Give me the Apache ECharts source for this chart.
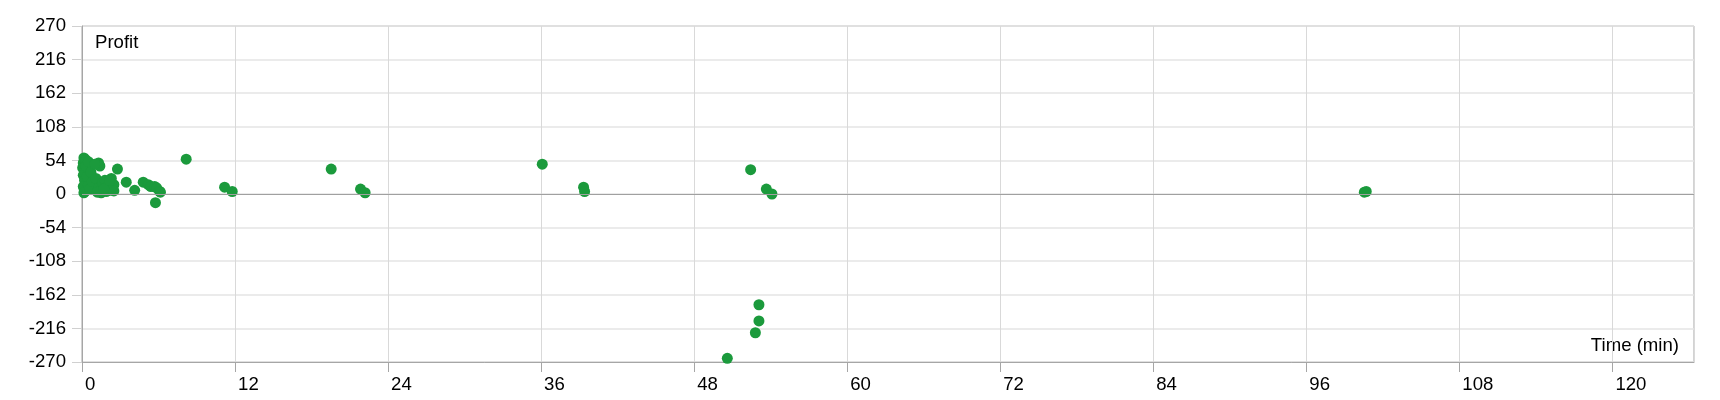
<!DOCTYPE html>
<html>
<head>
<meta charset="utf-8">
<script src="https://cdn.jsdelivr.net/npm/echarts@6/dist/echarts.min.js"></script>
<style>html,body{margin:0;padding:0;background:#fff}#c{width:1720px;height:400px}</style>
</head>
<body>
<div id="c"></div>
<script>
// Time (min) and profit of each trade
var timeMin = [
  0.15, 0.1, 0.3, 0.05, 0.2, 0.1, 0.3, 0.5, 0.2, 0.1, 0.3, 0.15, 0.5, 0.4, 0.6, 0.7, 0.8,
  1.3, 1.4, 1.0,
  1.1, 1.3, 1.5, 1.6, 1.8, 2.0, 2.2, 2.3, 1.9, 2.5, 2.5, 1.2, 1.7, 2.16,
  2.78, 3.47, 4.13, 4.8, 5.2, 5.4, 5.7, 5.85, 6.1, 6.15, 5.76,
  8.17, 11.18, 11.78, 19.54, 21.84, 22.2, 36.09, 39.33, 39.41,
  52.43, 53.66, 54.1, 53.08, 53.08, 52.8, 50.6, 100.55, 100.7
];
var profit = [
  58, 50, 55, 42, 38, 30, 45, 52, 22, 12, 5, 2, 15, 28, 8, 35, 20,
  50, 45, 48,
  25, 10, 2, 18, 22, 12, 6, 25, 4, 15, 5, 3, 8, 22,
  40, 19, 6, 19, 15, 12, 12, 10, 4, 3, -14,
  56, 11, 4, 40, 8, 2, 48, 11, 4,
  39, 8, 0, -178, -204, -223, -264, 3, 4
];
var yTicks = [-270, -216, -162, -108, -54, 0, 54, 108, 162, 216, 270];
var xTicks = [0, 12, 24, 36, 48, 60, 72, 84, 96, 108, 120];

var points = timeMin.map(function (t, i) { return [t, profit[i]]; });
var FONT = 'Liberation Sans';
var FS = 18.6;
var chart = echarts.init(document.getElementById('c'), null, {renderer: 'canvas'});
chart.setOption({
  animation: false,
  backgroundColor: '#fff',
  textStyle: {fontFamily: FONT},
  grid: {left: 82, right: 26, top: 26, bottom: 38, show: true, borderColor: '#a6a6a6', borderWidth: 1, containLabel: false},
  xAxis: {
    type: 'value', min: xTicks[0], max: 126.4, interval: 12,
    axisLine: {show: true, onZero: false, lineStyle: {color: '#a6a6a6'}},
    axisTick: {show: true, length: 10, lineStyle: {color: '#a6a6a6'}},
    splitLine: {show: true, lineStyle: {color: '#d9d9d9', width: 1}},
    axisLabel: {color: '#000', fontSize: FS, fontFamily: FONT, align: 'left', margin: 13, padding: [0, 0, 0, 3], showMaxLabel: false,
      formatter: function (v) { return xTicks.indexOf(v) >= 0 ? String(v) : ''; }}
  },
  yAxis: {
    type: 'value', min: yTicks[0], max: yTicks[yTicks.length - 1], interval: 54,
    axisLine: {show: true, onZero: false, lineStyle: {color: '#a6a6a6'}},
    axisTick: {show: true, length: 10, lineStyle: {color: '#d0d0d0'}},
    splitLine: {show: true, lineStyle: {color: '#e4e4e4', width: 1.5}},
    axisLabel: {color: '#000', fontSize: FS, fontFamily: FONT, margin: 16}
  },
  graphic: [
    {type: 'text', left: 95, top: 33, style: {text: 'Profit', fontSize: FS, fontFamily: FONT, fill: '#000'}},
    {type: 'text', right: 41, top: 336, style: {text: 'Time (min)', fontSize: FS, fontFamily: FONT, fill: '#000'}}
  ],
  series: [{
    type: 'scatter',
    data: points,
    symbolSize: 11,
    itemStyle: {color: '#1b9a3c', opacity: 1},
    markLine: {
      silent: true, symbol: 'none', label: {show: false},
      lineStyle: {color: '#a0a0a0', width: 1, type: 'solid'},
      data: [{yAxis: 0}]
    },
    z: 3
  }]
});
</script>
</body>
</html>
